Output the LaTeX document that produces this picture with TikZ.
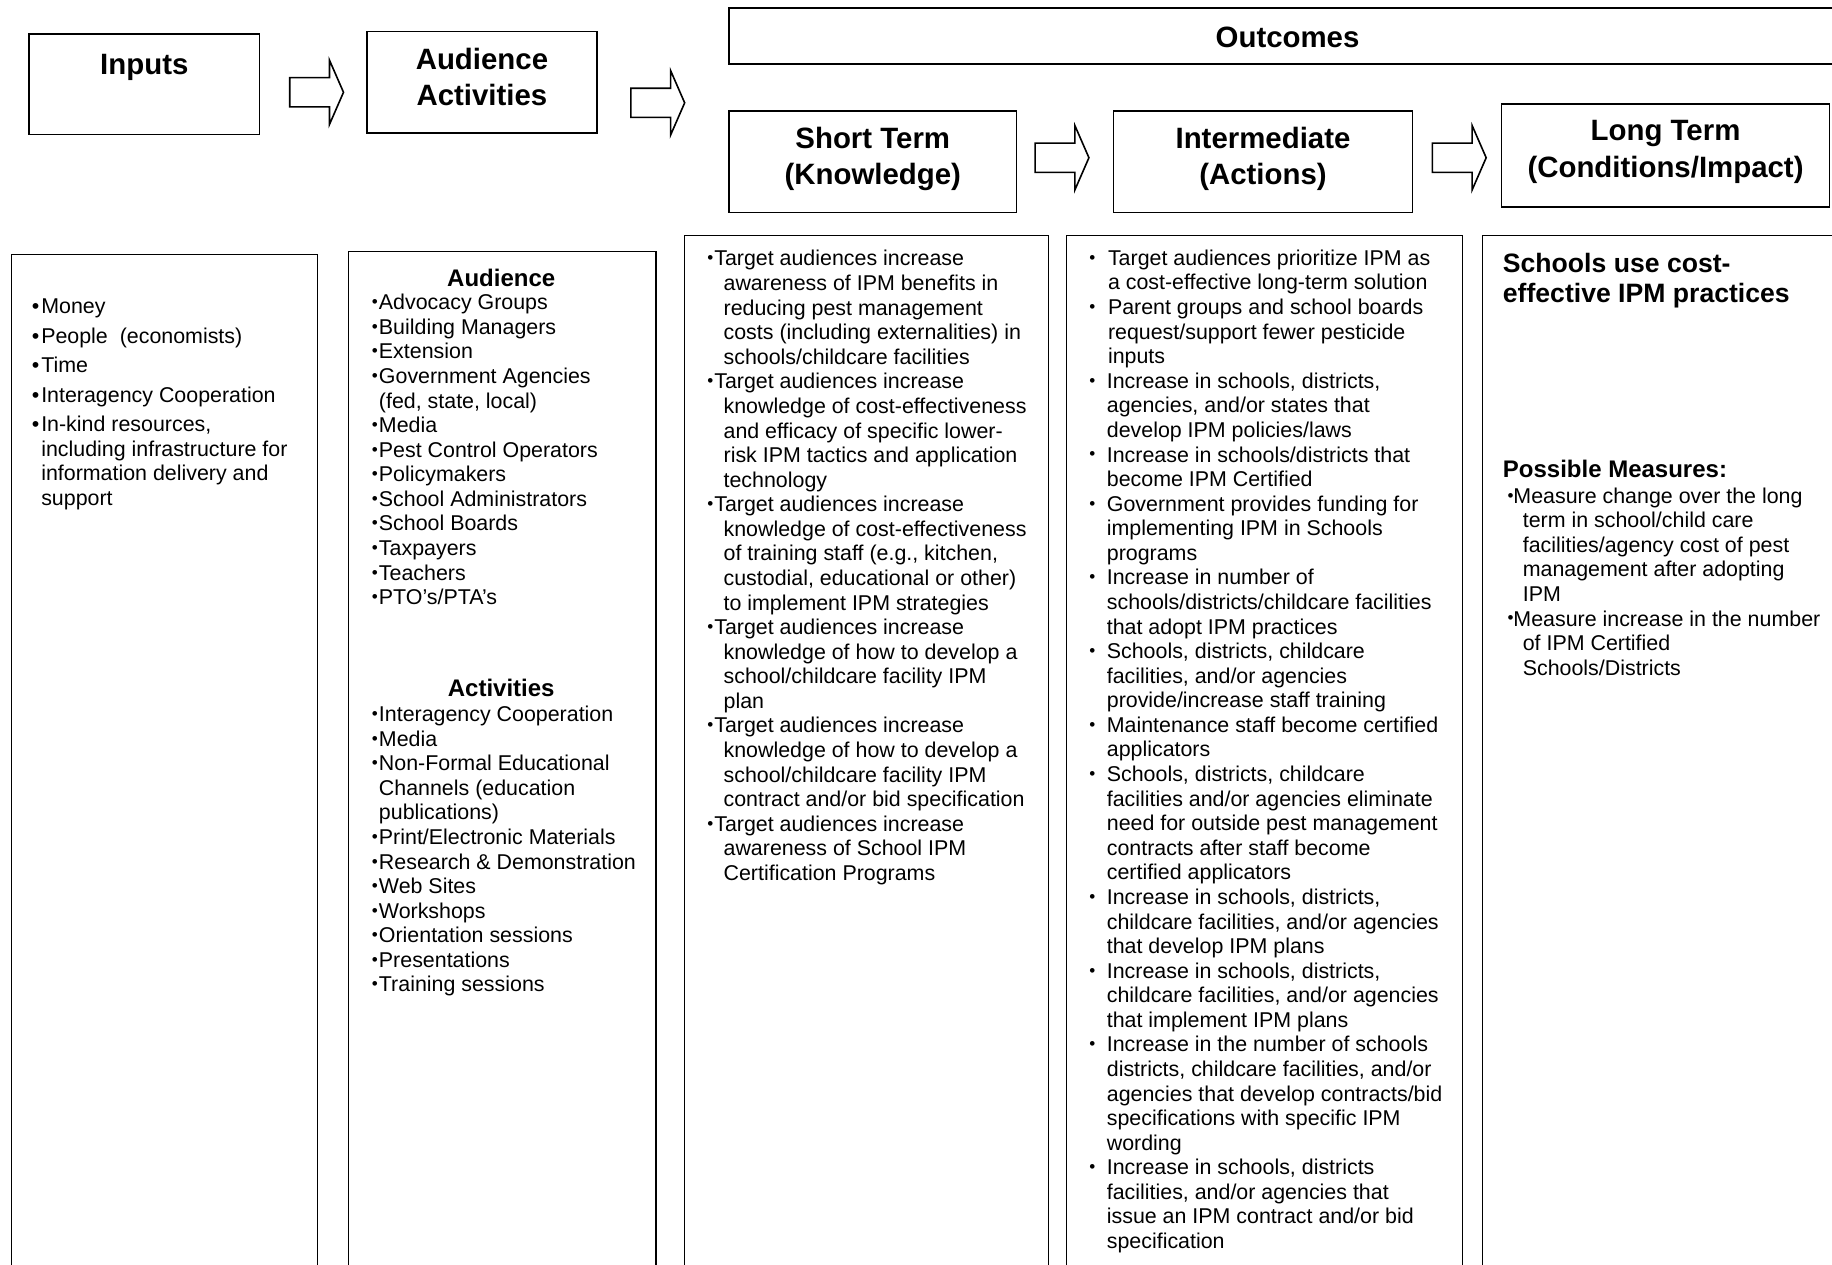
\documentclass[tikz,border=0pt]{standalone}
\usepackage{fontspec}
\usepackage{graphicx}
\setmainfont{Liberation Sans}

\newdimen\pxd \pxd=0.5842pt
\newcommand\titlefont{\fontsize{14.7pt}{18.1pt}\selectfont\bfseries}
\newcommand\subfont{\fontsize{12pt}{14.4pt}\selectfont\bfseries}
\newcommand\bigsubfont{\fontsize{13.3pt}{15.2pt}\selectfont\bfseries}
\newcommand\bodyfont{\fontsize{10.7pt}{12.29pt}\selectfont}
% bullets and indents, widths in picture pixels
\newcommand\smbul{\raisebox{0.18ex}{\scalebox{0.8}{•}}}
\newcommand\ib{\makebox[8\pxd][l]{•}}
\newcommand\bl[1]{\makebox[#1\pxd][l]{\smbul}}
\newcommand\ind[1]{\hspace*{#1\pxd}}

\tikzset{
  topbox/.style={draw, line width=0.8pt, inner sep=0pt},
  colbox/.style={draw, line width=0.6pt, inner sep=0pt, anchor=north west},
  title/.style={font=\titlefont, align=center, inner sep=0pt, anchor=north, execute at begin node=\strut},
  subtitle/.style={font=\subfont, inner sep=0pt, anchor=north, execute at begin node=\strut},
  body/.style={font=\bodyfont, align=left, inner sep=0pt, anchor=north west, execute at begin node=\strut},
  pics/blockarrow/.style={code={
    \draw[line width=0.8pt, fill=white] (0,-12.5) -- (34,-12.5) -- (34,-27.5) -- (46,0)
      -- (34,27.5) -- (34,12.5) -- (0,12.5) -- cycle;
  }}
}

\begin{document}
\begin{tikzpicture}[x=0.5842pt, y=-0.5842pt]
\useasboundingbox (0,0) rectangle (1568,1082);
\clip (0,0) rectangle (1568,1082);

% header boxes
\node[topbox, minimum width=197*\pxd, minimum height=86*\pxd] (inputs) at (123.5,72) {};
\node[topbox, minimum width=197*\pxd, minimum height=87*\pxd] (audact) at (412.5,70.5) {};
\node[topbox, minimum width=956*\pxd, minimum height=48*\pxd] (outcomes) at (1102,31) {};
\node[topbox, minimum width=246*\pxd, minimum height=87*\pxd] (short) at (747,138.5) {};
\node[topbox, minimum width=256*\pxd, minimum height=87*\pxd] (inter) at (1081,138.5) {};
\node[topbox, minimum width=281*\pxd, minimum height=88*\pxd] (long) at (1425.5,133) {};

\node[title] (inputsT) at (123.5,41.5) {Inputs};
\node[title] (audactT) at (412.5,41) {Audience\\Activities};
\node[title] (outcomesT) at (1102,19) {Outcomes};
\node[title] (shortT) at (747,108.5) {Short Term\\(Knowledge)};
\node[title] (interT) at (1081,108.5) {Intermediate\\(Actions)};
\node[title] (longT) at (1425.5,103) {Long Term\\(Conditions/Impact)};

% block arrows
\pic (arr1) at (248,79) {blockarrow};
\pic (arr2) at (540,88) {blockarrow};
\pic (arr3) at (886,135) {blockarrow};
\pic (arr4) at (1226,135) {blockarrow};

% columns
\node[colbox, minimum width=262*\pxd, minimum height=883*\pxd] (inputscol) at (9,217) {};
\node[colbox, minimum width=263*\pxd, minimum height=885*\pxd] (audcol) at (298,215) {};
\node[colbox, minimum width=312*\pxd, minimum height=899*\pxd] (shortcol) at (585,201) {};
\node[colbox, minimum width=339*\pxd, minimum height=899*\pxd] (intercol) at (912,201) {};
\node[colbox, minimum width=322*\pxd, minimum height=899*\pxd] (longcol) at (1268,201) {};

% inputs
\node[body] (inputsL) at (27,255.5) {\ib Money\\[4.2\pxd]
  \ib People\ \ (economists)\\[4.2\pxd]
  \ib Time\\[4.2\pxd]
  \ib Interagency Cooperation\\[4.2\pxd]
  \ib In-kind resources,\\
  \ind{8}including infrastructure for\\
  \ind{8}information delivery and\\
  \ind{8}support};

% audience and activities
\node[subtitle] (audH) at (429,227.5) {Audience};
\node[body] (audL) at (318,251.5) {\bl{6}Advocacy Groups\\
  \bl{6}Building Managers\\
  \bl{6}Extension\\
  \bl{6}Government Agencies\\
  \ind{6}(fed, state, local)\\
  \bl{6}Media\\
  \bl{6}Pest Control Operators\\
  \bl{6}Policymakers\\
  \bl{6}School Administrators\\
  \bl{6}School Boards\\
  \bl{6}Taxpayers\\
  \bl{6}Teachers\\
  \bl{6}PTO’s/PTA’s};
\node[subtitle] (actH) at (429,578.5) {Activities};
\node[body] (actL) at (318,604) {\bl{6}Interagency Cooperation\\
  \bl{6}Media\\
  \bl{6}Non-Formal Educational\\
  \ind{6}Channels (education\\
  \ind{6}publications)\\
  \bl{6}Print/Electronic Materials\\
  \bl{6}Research \& Demonstration\\
  \bl{6}Web Sites\\
  \bl{6}Workshops\\
  \bl{6}Orientation sessions\\
  \bl{6}Presentations\\
  \bl{6}Training sessions};

% short term
\node[body] (shortL) at (605,214) {\bl{6}Target audiences increase\\
  \ind{14}awareness of IPM benefits in\\
  \ind{14}reducing pest management\\
  \ind{14}costs (including externalities) in\\
  \ind{14}schools/childcare facilities\\
  \bl{6}Target audiences increase\\
  \ind{14}knowledge of cost-effectiveness\\
  \ind{14}and efficacy of specific lower-\\
  \ind{14}risk IPM tactics and application\\
  \ind{14}technology\\
  \bl{6}Target audiences increase\\
  \ind{14}knowledge of cost-effectiveness\\
  \ind{14}of training staff (e.g., kitchen,\\
  \ind{14}custodial, educational or other)\\
  \ind{14}to implement IPM strategies\\
  \bl{6}Target audiences increase\\
  \ind{14}knowledge of how to develop a\\
  \ind{14}school/childcare facility IPM\\
  \ind{14}plan\\
  \bl{6}Target audiences increase\\
  \ind{14}knowledge of how to develop a\\
  \ind{14}school/childcare facility IPM\\
  \ind{14}contract and/or bid specification\\
  \bl{6}Target audiences increase\\
  \ind{14}awareness of School IPM\\
  \ind{14}Certification Programs};

% intermediate
\node[body] (interL) at (932,213.5) {\bl{16}Target audiences prioritize IPM as\\
  \ind{16}a cost-effective long-term solution\\
  \bl{16}Parent groups and school boards\\
  \ind{16}request/support fewer pesticide\\
  \ind{16}inputs\\
  \bl{15}Increase in schools, districts,\\
  \ind{15}agencies, and/or states that\\
  \ind{15}develop IPM policies/laws\\
  \bl{15}Increase in schools/districts that\\
  \ind{15}become IPM Certified\\
  \bl{15}Government provides funding for\\
  \ind{15}implementing IPM in Schools\\
  \ind{15}programs\\
  \bl{15}Increase in number of\\
  \ind{15}schools/districts/childcare facilities\\
  \ind{15}that adopt IPM practices\\
  \bl{15}Schools, districts, childcare\\
  \ind{15}facilities, and/or agencies\\
  \ind{15}provide/increase staff training\\
  \bl{15}Maintenance staff become certified\\
  \ind{15}applicators\\
  \bl{15}Schools, districts, childcare\\
  \ind{15}facilities and/or agencies eliminate\\
  \ind{15}need for outside pest management\\
  \ind{15}contracts after staff become\\
  \ind{15}certified applicators\\
  \bl{15}Increase in schools, districts,\\
  \ind{15}childcare facilities, and/or agencies\\
  \ind{15}that develop IPM plans\\
  \bl{15}Increase in schools, districts,\\
  \ind{15}childcare facilities, and/or agencies\\
  \ind{15}that implement IPM plans\\
  \bl{15}Increase in the number of schools\\
  \ind{15}districts, childcare facilities, and/or\\
  \ind{15}agencies that develop contracts/bid\\
  \ind{15}specifications with specific IPM\\
  \ind{15}wording\\
  \bl{15}Increase in schools, districts\\
  \ind{15}facilities, and/or agencies that\\
  \ind{15}issue an IPM contract and/or bid\\
  \ind{15}specification};

% long term
\node[body, font=\bigsubfont] (longH) at (1286,216) {Schools use cost-\\effective IPM practices};
\node[body, font=\subfont] (measH) at (1286,391.5) {Possible Measures:};
\node[body] (measL) at (1290,417) {\bl{5}Measure change over the long\\
  \ind{13}term in school/child care\\
  \ind{13}facilities/agency cost of pest\\
  \ind{13}management after adopting\\
  \ind{13}IPM\\
  \bl{5}Measure increase in the number\\
  \ind{13}of IPM Certified\\
  \ind{13}Schools/Districts};
\end{tikzpicture}
\end{document}
